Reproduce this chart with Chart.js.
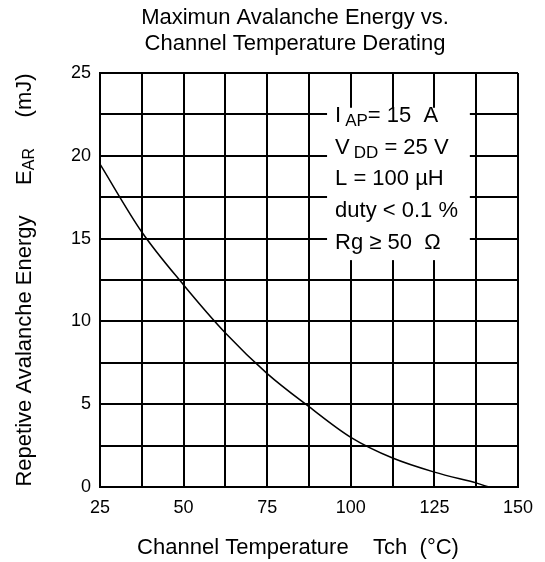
<!DOCTYPE html>
<html>
<head>
<meta charset="utf-8">
<script src="https://cdn.jsdelivr.net/npm/chart.js@4.4.1/dist/chart.umd.min.js"></script>
<style>
  html, body { margin: 0; padding: 0; background: #fff; }
  #wrap { width: 545px; height: 562px; }
</style>
</head>
<body>
<div id="wrap"><canvas id="chart" width="545" height="562"></canvas></div>
<script>
// Data
const temps = [25, 37.5, 50, 62.5, 75, 87.5, 100, 112.5, 125, 137.5, 142, 150];
const energy = [19.5, 15.4, 12.2, 9.3, 6.85, 4.85, 3.0, 1.75, 0.9, 0.25, 0, 0];
const xTickLabels = [25, 50, 75, 100, 125, 150];
const yTickLabels = [0, 5, 10, 15, 20, 25];
const titleLines = ['Maximun Avalanche Energy vs.', 'Channel Temperature Derating'];
const xTitle = 'Channel Temperature    Tch  (\u00b0C)';
const conditions = [
    ['I', 'AP', '= 15  A'],
    ['V', 'DD', ' = 25 V'],
    ['L = 100 \u00b5H', '', ''],
    ['duty < 0.1 %', '', ''],
    ['Rg \u2265 50  \u03a9', '', '']
];

const FONT = '"Liberation Sans", Arial, sans-serif';

// Titles (chart title, x title, y title with subscript)
const titlePlugin = {
    id: 'titles',
    afterDraw(chart) {
        const ctx = chart.ctx;
        const area = chart.chartArea;
        ctx.save();
        ctx.fillStyle = '#000';
        ctx.textAlign = 'center';
        ctx.textBaseline = 'middle';
        ctx.font = '22px ' + FONT;
        ctx.fillText(titleLines[0], 295, 18);
        ctx.fillText(titleLines[1], 295, 44);
        ctx.fillText(xTitle, 298, 548);

        ctx.translate(25, (area.top + area.bottom) / 2);
        ctx.rotate(-Math.PI / 2);
        ctx.textAlign = 'left';
        const big = '22px ' + FONT;
        const small = '16px ' + FONT;
        const parts = [
            ['Repetive Avalanche Energy     E', big, 0],
            ['AR', small, 5],
            ['     (mJ)', big, 0]
        ];
        let total = 0;
        parts.forEach(p => { ctx.font = p[1]; total += ctx.measureText(p[0]).width; });
        let x = -total / 2;
        parts.forEach(p => {
            ctx.font = p[1];
            ctx.fillText(p[0], x, p[2]);
            x += ctx.measureText(p[0]).width;
        });
        ctx.restore();
    }
};

// Condition box in the upper right of the plot
const conditionPlugin = {
    id: 'conditions',
    afterDraw(chart) {
        const ctx = chart.ctx;
        const xs = chart.scales.x;
        const ys = chart.scales.y;
        const left = xs.getPixelForValue(92.9);
        const right = xs.getPixelForValue(135.6);
        const top = ys.getPixelForValue(22.9);
        const bottom = ys.getPixelForValue(13.7);
        ctx.save();
        ctx.fillStyle = '#fff';
        ctx.fillRect(left, top, right - left, bottom - top);
        ctx.fillStyle = '#000';
        ctx.textBaseline = 'middle';
        const big = '22px ' + FONT;
        const small = '17px ' + FONT;
        const rowH = 31.7;
        conditions.forEach((row, i) => {
            let x = left + 8;
            const y = top + 8 + i * rowH;
            ctx.font = big;
            ctx.fillText(row[0], x, y);
            x += ctx.measureText(row[0]).width + 4;
            if (row[1]) {
                ctx.font = small;
                ctx.fillText(row[1], x, y + 6);
                x += ctx.measureText(row[1]).width;
                ctx.font = big;
                ctx.fillText(row[2], x, y);
            }
        });
        ctx.restore();
    }
};

new Chart(document.getElementById('chart').getContext('2d'), {
    type: 'line',
    data: {
        datasets: [{
            data: temps.map((t, i) => ({ x: t, y: energy[i] })),
            borderColor: '#000',
            borderWidth: 1.5,
            pointRadius: 0,
            fill: false,
            cubicInterpolationMode: 'monotone'
        }]
    },
    options: {
        responsive: false,
        animation: false,
        layout: { padding: { left: 0, right: 27, top: 73, bottom: 0 } },
        plugins: {
            legend: { display: false },
            tooltip: { enabled: false },
            title: { display: false }
        },
        scales: {
            x: {
                type: 'linear',
                min: 25,
                max: 150,
                afterBuildTicks: s => { s.ticks = []; for (let v = 25; v <= 150; v += 12.5) s.ticks.push({ value: v }); },
                afterFit: s => { s.height = 75; },
                grid: { color: '#000', lineWidth: 2, drawTicks: false },
                border: { color: '#000', width: 2 },
                ticks: {
                    autoSkip: false,
                    maxRotation: 0,
                    color: '#000',
                    padding: 10,
                    font: { family: FONT, size: 18 },
                    callback: v => xTickLabels.includes(v) ? String(v) : ''
                }
            },
            y: {
                type: 'linear',
                min: 0,
                max: 25,
                afterBuildTicks: s => { s.ticks = []; for (let v = 0; v <= 25; v += 2.5) s.ticks.push({ value: v }); },
                afterFit: s => { s.width = 100; },
                grid: { color: '#000', lineWidth: 2, drawTicks: false },
                border: { color: '#000', width: 2 },
                ticks: {
                    autoSkip: false,
                    color: '#000',
                    padding: 9,
                    font: { family: FONT, size: 18 },
                    callback: v => yTickLabels.includes(v) ? String(v) : ''
                }
            }
        }
    },
    plugins: [titlePlugin, conditionPlugin]
});
</script>
</body>
</html>
